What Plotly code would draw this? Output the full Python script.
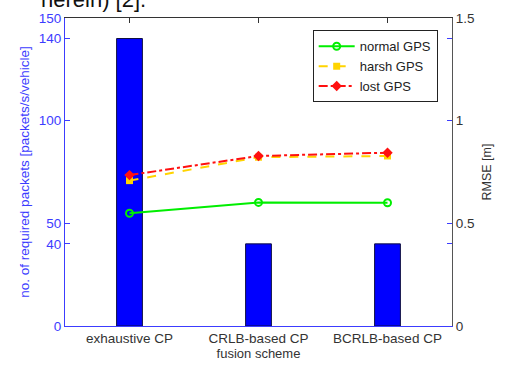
import plotly.graph_objects as go

categories = ["exhaustive CP", "CRLB-based CP", "BCRLB-based CP"]
packets = [140, 40, 40]
normal_gps = [0.549, 0.602, 0.600]
harsh_gps = [0.708, 0.822, 0.828]
lost_gps = [0.735, 0.828, 0.844]
left_ticks = [0, 40, 50, 100, 140, 150]
right_ticks = [0, 0.5, 1, 1.5]

xpos = [1, 2, 3]
BLUE = "#3c3cff"
FONT = "Liberation Sans, Arial, sans-serif"

fig = go.Figure()
fig.add_trace(go.Bar(x=xpos, y=packets, width=0.2, marker=dict(color="#0000ff", line=dict(color="#101040", width=1)),
                     showlegend=False, yaxis="y"))
fig.add_trace(go.Scatter(x=xpos, y=normal_gps, name="normal GPS", yaxis="y2", mode="lines+markers",
                         line=dict(color="#00ee00", width=2), marker=dict(symbol="circle-open", size=7, color="#00ee00", line=dict(width=2))))
fig.add_trace(go.Scatter(x=xpos, y=harsh_gps, name="harsh GPS", yaxis="y2", mode="lines+markers",
                         line=dict(color="#ffd400", width=2, dash="dash"), marker=dict(symbol="square", size=7, color="#ffd400")))
fig.add_trace(go.Scatter(x=xpos, y=lost_gps, name="lost GPS", yaxis="y2", mode="lines+markers",
                         line=dict(color="#ff1010", width=2, dash="dashdot"), marker=dict(symbol="diamond", size=8, color="#ff1010")))
fig.add_trace(go.Scatter(x=[1], y=[None], xaxis="x2", showlegend=False, hoverinfo="skip"))
fig.add_trace(go.Scatter(x=[1], y=[None], yaxis="y3", showlegend=False, hoverinfo="skip"))

fig.update_layout(
    width=506, height=367,
    margin=dict(l=65, r=54, t=18, b=41, autoexpand=False),
    paper_bgcolor="white", plot_bgcolor="white",
    font=dict(family=FONT, size=13, color="#333333"),
    xaxis=dict(range=[0.5, 3.5], tickvals=xpos, ticktext=categories, showline=True, linecolor=BLUE, linewidth=1,
               ticks="", showgrid=False, zeroline=False, automargin=False,
               title=dict(text="fusion scheme", font=dict(size=13, color="#333333"), standoff=0),
               tickfont=dict(size=13.5, color="#333333")),
    xaxis2=dict(range=[0.5, 3.5], overlaying="x", side="top", tickvals=xpos, showticklabels=False,
                ticks="inside", ticklen=5, tickcolor="#333333", showline=True, linecolor="#333333", linewidth=1,
                showgrid=False, zeroline=False, automargin=False),
    yaxis=dict(range=[0, 150], tickvals=left_ticks, ticks="inside", ticklen=5, tickcolor=BLUE,
               showline=True, linecolor=BLUE, linewidth=1, showgrid=False, zeroline=False, automargin=False,
               tickfont=dict(size=13.5, color=BLUE),
               title=dict(text="no. of required packets [packets/s/vehicle]", font=dict(size=13.5, color=BLUE), standoff=6)),
    yaxis3=dict(range=[0, 150], tickvals=left_ticks, overlaying="y", side="right", ticks="inside", ticklen=5,
                tickcolor=BLUE, showticklabels=False, showline=False, showgrid=False, zeroline=False, automargin=False),
    yaxis2=dict(range=[0, 1.5], tickvals=right_ticks, ticktext=["0", "0.5", "1", "1.5"], overlaying="y", side="right",
                ticks="inside", ticklen=5, tickcolor="#333333", showline=True, linecolor="#555555", linewidth=1,
                showgrid=False, zeroline=False, automargin=False, tickfont=dict(size=13.5, color="#333333"),
                title=dict(text="RMSE [m]", font=dict(size=12.5, color="#333333"), standoff=8)),
    legend=dict(x=0.64, y=0.96, xanchor="left", yanchor="top", bgcolor="white", bordercolor="#222222", borderwidth=1,
                font=dict(size=13, color="#222222"), tracegroupgap=0, itemwidth=36),
    annotations=[dict(text="herein) [2].", xref="paper", yref="paper", x=0.2145, y=1.0, xanchor="right", yanchor="bottom",
                      yshift=4, showarrow=False, font=dict(size=22, color="#111111", family=FONT))],
)

fig.write_html("out.html", config={"displayModeBar": False},
               post_script="document.body.style.margin='0';document.body.style.padding='0';")
